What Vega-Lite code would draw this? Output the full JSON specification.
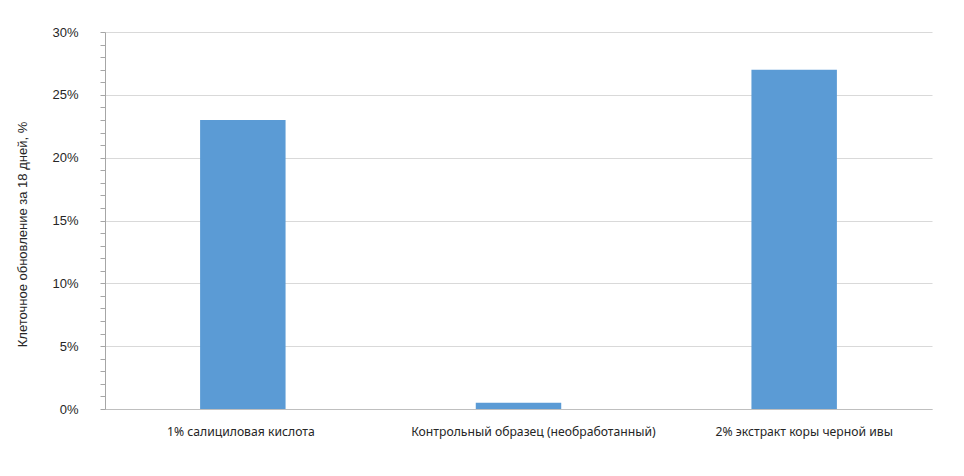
{
  "$schema": "https://vega.github.io/schema/vega-lite/v6.json",
  "width": 827,
  "height": 377,
  "autosize": {"type": "none"},
  "padding": {"left": 105, "top": 32, "right": 32, "bottom": 67},
  "background": "white",
  "config": {
    "view": {"stroke": null},
    "font": "Liberation Sans"
  },
  "data": {
    "values": [
      {"group": "1% салициловая кислота", "value": 0.23},
      {"group": "Контрольный образец (необработанный)", "value": 0.005},
      {"group": "2% экстракт коры черной ивы", "value": 0.27}
    ]
  },
  "mark": {"type": "bar", "color": "#5B9BD5"},
  "encoding": {
    "x": {
      "field": "group",
      "type": "nominal",
      "sort": null,
      "scale": {"paddingInner": 0.69, "paddingOuter": 0.345},
      "axis": {
        "title": null,
        "labelAngle": 0,
        "labelLimit": 0,
        "ticks": false,
        "domain": true,
        "domainColor": "#bfbfbf",
        "labelPadding": 16,
        "labelFontSize": 12.2,
        "labelColor": "#262626",
        "labelFont": "Noto Sans",
        "labelOffset": {"condition": [{"test": "datum.value == 'Контрольный образец (необработанный)'", "value": 15}, {"test": "datum.value == '2% экстракт коры черной ивы'", "value": 10}], "value": -2}
      }
    },
    "y": {
      "field": "value",
      "type": "quantitative",
      "scale": {"domain": [0, 0.3], "nice": false},
      "axis": {
        "title": "Клеточное обновление за 18 дней, %",
        "titleFontSize": 13,
        "titleFontWeight": "normal",
        "titleColor": "#262626",
        "titleFont": "Liberation Sans",
        "titleX": -76,
        "titleY": 202,
        "values": [0,0.01,0.02,0.03,0.04,0.05,0.06,0.07,0.08,0.09,0.1,0.11,0.12,0.13,0.14,0.15,0.16,0.17,0.18,0.19,0.2,0.21,0.22,0.23,0.24,0.25,0.26,0.27,0.28,0.29,0.3],
        "labelExpr": "round(datum.value*100) % 5 == 0 ? format(datum.value, '.0%') : ''",
        "labelFontSize": 13,
        "labelColor": "#262626",
        "labelPadding": 22,
        "tickSize": 5,
        "tickColor": "#a6a6a6",
        "domainColor": "#a6a6a6",
        "grid": true,
        "gridColor": "#d9d9d9",
        "gridOpacity": {"condition": {"test": "round(datum.value*100) % 5 == 0", "value": 1}, "value": 0}
      }
    }
  }
}
